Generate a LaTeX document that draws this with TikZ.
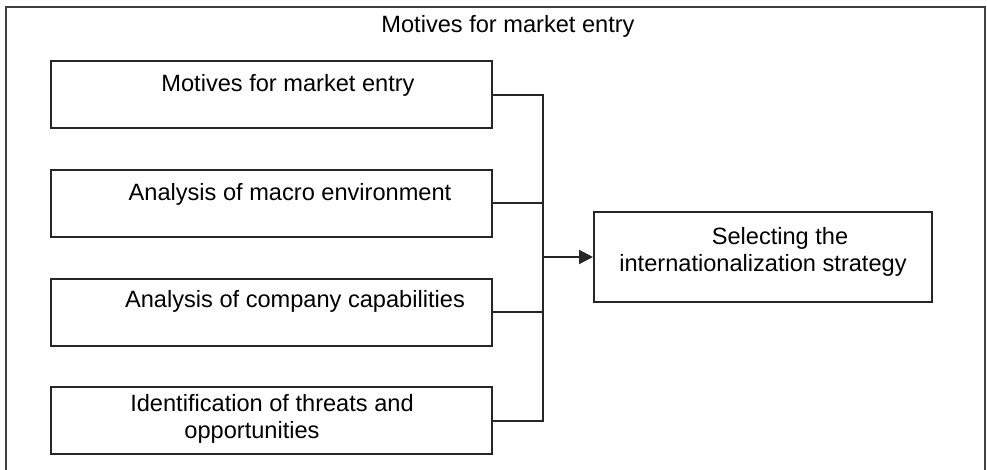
\documentclass[tikz,border=0pt]{standalone}
\usepackage{fontspec}
\setmainfont{Liberation Sans}
\usetikzlibrary{positioning,arrows.meta}

\begin{document}
\begin{tikzpicture}[x=1pt,y=-1pt,
  every node/.style={font=\fontsize{23.6}{27}\selectfont},
  box/.style={draw=black!85,line width=2pt,minimum width=441pt,minimum height=67pt,inner sep=0pt},
  txt/.style={anchor=base,inner sep=0pt,align=center},
  line/.style={draw=black!85,line width=2pt}]
\useasboundingbox (0,0) rectangle (987,470);

%外枠
\draw[line,black!75] (5.5,470) -- (5.5,7) -- (985,7) -- (985,470);
\node[txt] (title) at (508,33) {Motives for market entry};

%左の箱
\node[box] (motives) at (271.5,95) {};
\node[box] (macro) at (271.5,203.5) {};
\node[box] (capab) at (271.5,312) {};
\node[box] (threats) at (271.5,420.5) {};
\node[txt] (motivesT) at (288,92) {Motives for market entry};
\node[txt] (macroT) at (290,201) {Analysis of macro environment};
\node[txt] (capabT) at (295,307) {Analysis of company capabilities};
\node[txt] (threatsT) at (252,438) {\hspace*{40pt}Identification of threats and\\opportunities};

%右の箱
\node[box,minimum width=338pt,minimum height=90pt] (strategy) at (763,257) {};
\node[txt] (strategyT) at (763,271) {\hspace*{34pt}Selecting the\\internationalization strategy};

%縦の線で結ぶ
\coordinate (bustop) at (543,95);
\coordinate (busbot) at (543,420.5);
\coordinate (busmid) at (543,257);
\draw[line] (motives.east) -- (bustop) -- (busbot) -- (threats.east);
\draw[line] (macro.east) -- (macro.east -| bustop);
\draw[line] (capab.east) -- (capab.east -| bustop);
\draw[line,-{Triangle[length=14pt,width=14pt]}] (busmid) -- (strategy.west);
\end{tikzpicture}
\end{document}
